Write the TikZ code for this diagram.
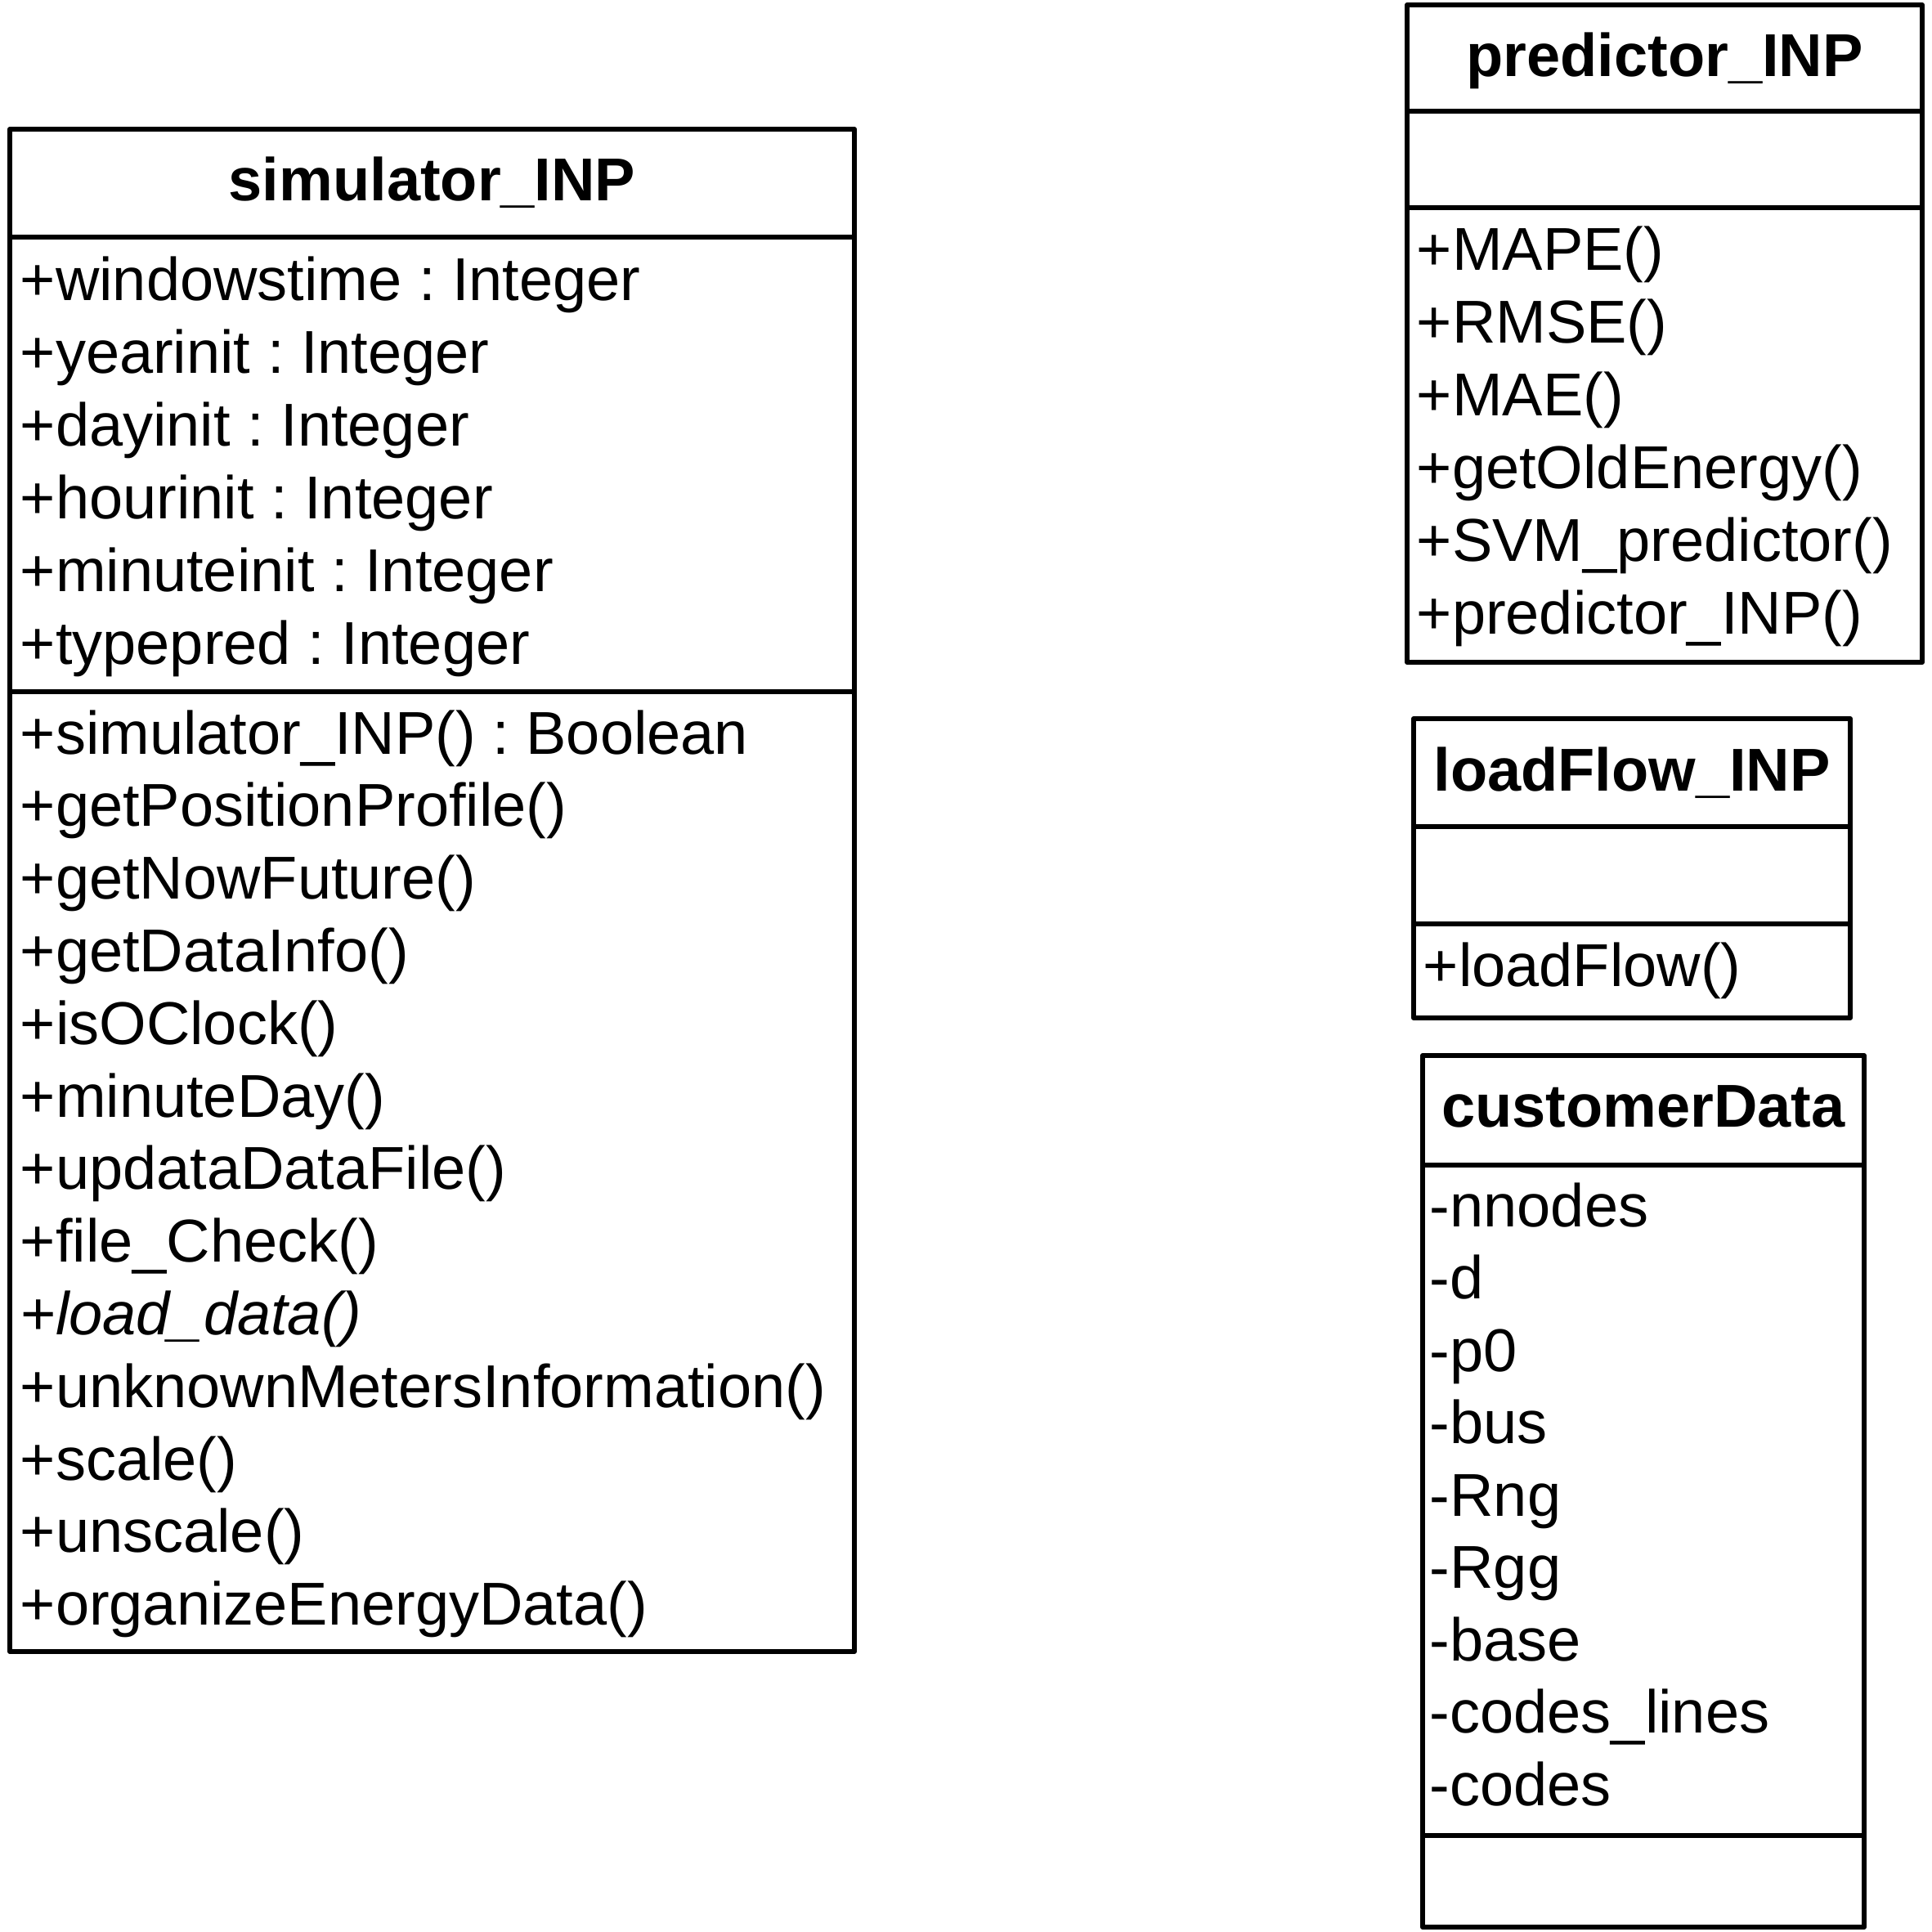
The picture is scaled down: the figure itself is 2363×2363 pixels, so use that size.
\documentclass[tikz,border=0pt]{standalone}
\usepackage{fontspec}
\setmainfont{Liberation Sans}
\frenchspacing
\tikzset{
  umlbox/.style={line width=1.5pt, line join=round},
  classname/.style={anchor=base, inner sep=0pt, font=\fontsize{18.5}{22}\selectfont\bfseries},
  member/.style={anchor=base west, inner sep=0pt, font=\fontsize{18.5}{22}\selectfont},
}
\begin{document}
\begin{tikzpicture}[x=0.25pt,y=0.25pt,yscale=-1,xscale=1]
\useasboundingbox (0,0) rectangle (2363,2363);
%Shape: Rectangle simulator_INP
\draw [umlbox] (12,158) rectangle (1045,2020) ;
\draw [umlbox] (12,290) -- (1045,290) ;
\draw [umlbox] (12,846) -- (1045,846) ;
\node [classname] (simname) at (528.5,246) {simulator\_INP};
\foreach \txt [count=\k from 0] in {+windowstime : Integer,+yearinit : Integer,+dayinit : Integer,+hourinit : Integer,+minuteinit : Integer,+typepred : Integer}
  \node [member] (simatt\k) at (24,368+88.8*\k) {\txt};
\foreach \txt [count=\k from 0] in {+simulator\_INP() : Boolean,+getPositionProfile(),+getNowFuture(),+getDataInfo(),+isOClock(),+minuteDay(),+updataDataFile(),+file\_Check(),\textit{+load\_data()},+unknownMetersInformation(),+scale(),+unscale(),+organizeEnergyData()}
  \node [member] (simop\k) at (24,922+88.8*\k) {\txt};
%Shape: Rectangle predictor_INP
\draw [umlbox] (1721,6) rectangle (2351,810) ;
\draw [umlbox] (1721,136) -- (2351,136) ;
\draw [umlbox] (1721,254) -- (2351,254) ;
\node [classname] (predname) at (2036,94) {predictor\_INP};
\foreach \txt [count=\k from 0] in {+MAPE(),+RMSE(),+MAE(),+getOldEnergy(),+SVM\_predictor(),+predictor\_INP()}
  \node [member] (predop\k) at (1732,331+88.8*\k) {\txt};
%Shape: Rectangle loadFlow_INP
\draw [umlbox] (1729,879) rectangle (2263,1245) ;
\draw [umlbox] (1729,1011) -- (2263,1011) ;
\draw [umlbox] (1729,1130) -- (2263,1130) ;
\node [classname] (lfname) at (1996,967) {loadFlow\_INP};
\node [member] (lfop0) at (1740,1206) {+loadFlow()};
%Shape: Rectangle customerData
\draw [umlbox] (1740,1291) rectangle (2280,2357) ;
\draw [umlbox] (1740,1425) -- (2280,1425) ;
\draw [umlbox] (1740,2245) -- (2280,2245) ;
\node [classname] (custname) at (2010,1378) {customerData};
\foreach \txt [count=\k from 0] in {-nnodes,-d,-p0,-bus,-Rng,-Rgg,-base,-codes\_lines,-codes}
  \node [member] (custatt\k) at (1748,1500+88.5*\k) {\txt};
\end{tikzpicture}
\end{document}
